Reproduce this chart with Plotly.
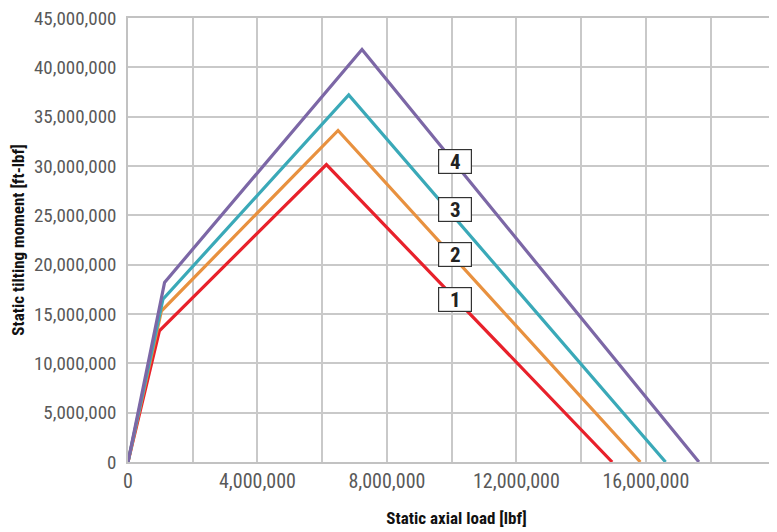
import plotly.graph_objects as go

# Data (x: static axial load [lbf], y: static tilting moment [ft-lbf])
series_names = ["1", "2", "3", "4"]
x_1 = [0, 0.97e6, 6.13e6, 14.96e6]
y_1 = [0, 13.3e6, 30.15e6, 0]
x_2 = [0, 1.03e6, 6.49e6, 15.83e6]
y_2 = [0, 15.3e6, 33.6e6, 0]
x_3 = [0, 1.08e6, 6.82e6, 16.61e6]
y_3 = [0, 16.5e6, 37.2e6, 0]
x_4 = [0, 1.13e6, 7.23e6, 17.64e6]
y_4 = [0, 18.2e6, 41.8e6, 0]
colors = ["#E8212B", "#E8913F", "#3AA9B8", "#7C67A6"]

label_x = [10.1e6, 10.1e6, 10.1e6, 10.1e6]
label_y = [16.5e6, 21.0e6, 25.6e6, 30.5e6]

x_tickvals = [0, 4e6, 8e6, 12e6, 16e6]
x_ticktext = ["0", "4,000,000", "8,000,000", "12,000,000", "16,000,000"]

FONT = "Roboto Condensed, Liberation Sans Narrow, Arial Narrow, DejaVu Sans Condensed, sans-serif"

fig = go.Figure()
xs = [x_1, x_2, x_3, x_4]
ys = [y_1, y_2, y_3, y_4]
for name, xv, yv, c in zip(series_names, xs, ys, colors):
    fig.add_trace(go.Scatter(x=xv, y=yv, mode="lines", name=name,
                             line=dict(color=c, width=3.2), showlegend=False))

for name, lx, ly in zip(series_names, label_x, label_y):
    fig.add_annotation(x=lx, y=ly, text="<b>%s</b>" % name, showarrow=False,
                       font=dict(family=FONT, size=21, color="#222222"),
                       bgcolor="white", bordercolor="#333333", borderwidth=1.2,
                       width=30, height=21)

grid = "#C9C9C9"
fig.update_layout(
    width=777, height=532,
    margin=dict(l=120, r=0, t=10, b=78),
    plot_bgcolor="white", paper_bgcolor="white",
    font=dict(family=FONT, color="#555555"),
    xaxis=dict(range=[0, 20.3e6], tickvals=x_tickvals, ticktext=x_ticktext,
               automargin=False,
               showgrid=True, gridcolor=grid, gridwidth=1.5,
               minor=dict(dtick=2e6, tick0=0, showgrid=True, gridcolor=grid, gridwidth=1.5),
               showline=True, linecolor="#C2C2C2", linewidth=1.5, mirror=True,
               zeroline=False, ticks="", tickfont=dict(size=20, color="#595959"),
               title=dict(text="<b>Static axial load [lbf]</b>", standoff=20,
                          font=dict(size=17, color="#111111"))),
    yaxis=dict(range=[0, 45e6], dtick=5e6, tickformat=",d",
               automargin=False, ticklabeloverflow="allow",
               showgrid=True, gridcolor=grid, gridwidth=1.5,
               showline=True, linecolor="#C2C2C2", linewidth=1.5,
               zeroline=False, ticks="", ticklabelstandoff=6,
               tickfont=dict(size=19, color="#595959"),
               title=dict(text="<b>Static tilting moment [ft-lbf]</b>", standoff=18,
                          font=dict(size=17, color="#111111"))),
)

fig.write_html("out.html")
